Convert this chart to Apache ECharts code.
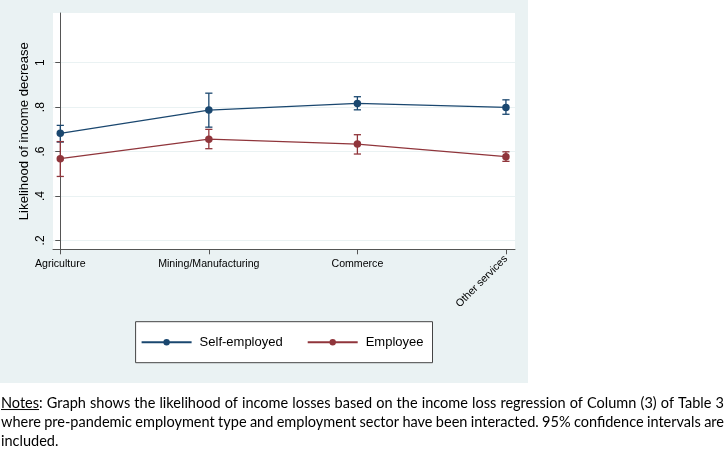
<!DOCTYPE html>
<html><head><meta charset="utf-8">
<script src="https://cdn.jsdelivr.net/npm/echarts@6.0.0/dist/echarts.min.js"></script>
<style>html,body{margin:0;padding:0;background:#fff}#c{width:725px;height:458px}</style>
</head><body><div id="c"></div>
<script>
// ---- data ----
const categories = ['Agriculture', 'Mining/Manufacturing', 'Commerce', 'Other services'];
const selfEmployed = [0.682, 0.787, 0.817, 0.799];
const selfLow = [0.643, 0.710, 0.788, 0.768];
const selfHigh = [0.718, 0.863, 0.847, 0.833];
const employee = [0.568, 0.656, 0.634, 0.577];
const employeeLow = [0.488, 0.613, 0.589, 0.556];
const employeeHigh = [0.645, 0.700, 0.676, 0.599];
const yTicks = [0.2, 0.4, 0.6, 0.8, 1];
const seriesNames = ['Self-employed', 'Employee'];
const yTitle = 'Likelihood of income decrease';
const notesLines = [
  'Notes: Graph shows the likelihood of income losses based on the income loss regression of Column (3) of Table 3',
  'where pre-pandemic employment type and employment sector have been interacted. 95% confidence intervals are',
  'included.'
];

// ---- styling ----
const NAVY = '#1a476f', MAROON = '#90353b', AXIS = '#555', BG = '#eaf2f3';
const FONT = "'Liberation Sans', Arial, sans-serif";
const NOTE_FONT = "Lato, 'Open Sans', sans-serif";

const chart = echarts.init(document.getElementById('c'), null, {renderer: 'canvas', width: 725, height: 458});

const idx = categories.map((_, i) => i);
const lineData = arr => arr.map((v, i) => [idx[i], v]);
const ciData = (lo, hi) => lo.map((v, i) => [idx[i], v, hi[i]]);

function errRender(color) {
  return function (params, api) {
    const x = api.value(0);
    const pLo = api.coord([x, api.value(1)]);
    const pHi = api.coord([x, api.value(2)]);
    const w = 3.6;
    const st = {stroke: color, lineWidth: 1.3};
    return {type: 'group', children: [
      {type: 'line', shape: {x1: pLo[0], y1: pLo[1], x2: pHi[0], y2: pHi[1]}, style: st},
      {type: 'line', shape: {x1: pLo[0] - w, y1: pLo[1], x2: pLo[0] + w, y2: pLo[1]}, style: st},
      {type: 'line', shape: {x1: pHi[0] - w, y1: pHi[1], x2: pHi[0] + w, y2: pHi[1]}, style: st}
    ]};
  };
}

// ---- notes (justified) ----
const cv = document.createElement('canvas').getContext('2d');
function measure(t, fs) { cv.font = fs + 'px ' + NOTE_FONT; return cv.measureText(t).width; }
const baseW = measure(notesLines[0], 14);
const noteFs = Math.min(15, 14 * 716 / baseW);
const noteLeft = 1, noteRight = 724, noteY0 = 403, noteDy = 19;
const noteGraphics = [];
notesLines.forEach((line, li) => {
  const words = line.split(' ');
  const widths = words.map(w => measure(w, noteFs));
  const total = widths.reduce((a, b) => a + b, 0);
  const justify = li < notesLines.length - 1;
  const gap = justify ? (noteRight - noteLeft - total) / (words.length - 1) : measure(' ', noteFs);
  let x = noteLeft;
  const y = noteY0 + li * noteDy;
  words.forEach((w, wi) => {
    noteGraphics.push({type: 'text', x: x, y: y, silent: true,
      style: {text: w, fill: '#000', font: noteFs + 'px ' + NOTE_FONT, textVerticalAlign: 'middle'}});
    if (li === 0 && wi === 0) {
      const uw = measure('Notes', noteFs);
      noteGraphics.push({type: 'line', silent: true, shape: {x1: x, y1: y + noteFs * 0.45, x2: x + uw, y2: y + noteFs * 0.45},
        style: {stroke: '#000', lineWidth: 1}});
    }
    x += widths[wi] + gap;
  });
});

const option = {
  animation: false,
  backgroundColor: '#fff',
  textStyle: {fontFamily: FONT},
  graphic: [{type: 'rect', z: -10, silent: true, shape: {x: 0, y: 0, width: 528, height: 383}, style: {fill: BG}}].concat(noteGraphics),
  grid: {left: 53, top: 13, width: 462, height: 236.3, show: true, backgroundColor: '#fff', borderWidth: 0},
  legend: {
    data: seriesNames, left: 135.6, top: 321.7, orient: 'horizontal',
    backgroundColor: '#fff', borderColor: '#444', borderWidth: 1, borderRadius: 0,
    padding: [14, 9, 14, 5], itemWidth: 50, itemHeight: 8, itemGap: 24,
    textStyle: {fontFamily: FONT, fontSize: 13, color: '#000', padding: [0, 0, 0, 3]}
  },
  xAxis: [{
    type: 'value', min: -0.049, max: 3.061, position: 'bottom',
    axisLine: {show: true, lineStyle: {color: AXIS, width: 1}},
    axisTick: {show: true, length: 5, lineStyle: {color: AXIS}, customValues: idx},
    axisLabel: {customValues: idx.slice(0, 3), margin: 9, fontSize: 10.6, color: '#000', fontFamily: FONT,
      formatter: v => categories[Math.round(v)]},
    splitLine: {show: false}
  }, {
    type: 'value', min: -0.049, max: 3.061, position: 'bottom',
    axisLine: {show: false}, axisTick: {show: false},
    axisLabel: {customValues: idx.slice(3), margin: 8, rotate: 45, fontSize: 10.6, color: '#000', fontFamily: FONT,
      formatter: v => categories[Math.round(v)]},
    splitLine: {show: false}
  }],
  yAxis: {
    type: 'value', min: 0.16, max: 1.224,
    name: yTitle, nameLocation: 'middle', nameRotate: 90, nameGap: 22, nameMoveOverlap: false,
    nameTextStyle: {fontFamily: FONT, fontSize: 13.2, color: '#000'},
    axisLine: {show: true, lineStyle: {color: AXIS, width: 1}},
    axisTick: {show: true, length: 5, lineStyle: {color: AXIS}, customValues: yTicks},
    axisLabel: {customValues: yTicks, rotate: 90, margin: 6, fontSize: 12, color: '#000', fontFamily: FONT,
      formatter: v => (Math.abs(v - 1) < 1e-9 ? '1' : '.' + Math.round(v * 10))},
    splitLine: {show: true, lineStyle: {color: BG, width: 1}}
  },
  series: [
    {type: 'custom', name: 'Self-employed CI', renderItem: errRender(NAVY), data: ciData(selfLow, selfHigh),
      encode: {x: 0, y: [1, 2]}, z: 1, silent: true},
    {type: 'custom', name: 'Employee CI', renderItem: errRender(MAROON), data: ciData(employeeLow, employeeHigh),
      encode: {x: 0, y: [1, 2]}, z: 1, silent: true},
    {type: 'line', name: seriesNames[0], data: lineData(selfEmployed), symbol: 'circle', symbolSize: 7.5,
      itemStyle: {color: NAVY}, lineStyle: {color: NAVY, width: 1.3}, z: 3},
    {type: 'line', name: seriesNames[1], data: lineData(employee), symbol: 'circle', symbolSize: 7.5,
      itemStyle: {color: MAROON}, lineStyle: {color: MAROON, width: 1.3}, z: 3}
  ]
};
chart.setOption(option);
</script>
</body></html>
